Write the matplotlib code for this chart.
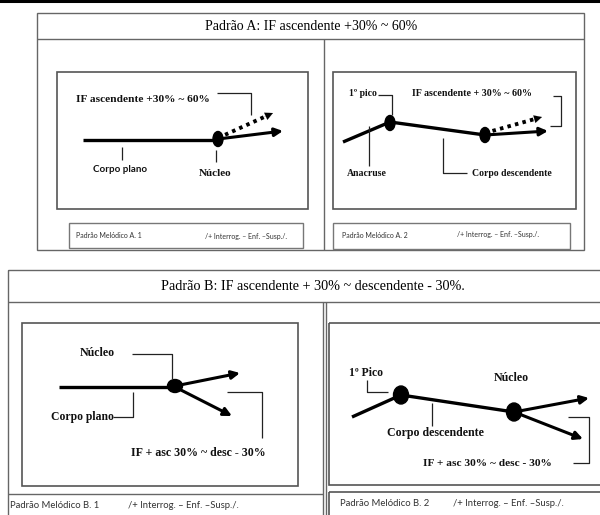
import matplotlib
matplotlib.use("Agg")
import matplotlib.pyplot as plt
from matplotlib.patches import Rectangle, Ellipse

SERIF = "Liberation Serif"
SANS = "Lato"

# table titles
title_a = "Padrão A: IF ascendente +30% ~ 60%"
title_b = "Padrão B: IF ascendente + 30% ~ descendente - 30%."
caption_tail = "/+ Interrog. – Enf. –Susp./."

# melodic contours (pixel coords, y grows downwards)
a1_body = [(83, 140), (218, 140)]
a1_dotted = [(218, 138), (273, 113)]
a1_solid = [(218, 139), (283, 131)]
a1_dots = [(218, 139, 10, 15)]

a2_body = [(343, 142), (390, 122), (485, 135)]
a2_dotted = [(485, 133), (542, 117)]
a2_solid = [(485, 135), (548, 131)]
a2_dots = [(390, 123, 10, 15), (485, 135, 10, 15)]

b1_body = [(59, 387), (175, 387)]
b1_up = [(175, 386), (240, 373)]
b1_down = [(175, 387), (232, 416)]
b1_dots = [(175, 386, 15, 13)]

b2_body = [(352, 417), (401, 395), (514, 412)]
b2_up = [(514, 412), (589, 398)]
b2_down = [(514, 412), (583, 439)]
b2_dots = [(401, 395, 15, 18), (514, 412, 15, 18)]

fig = plt.figure(figsize=(6, 5.15), dpi=100)
ax = fig.add_axes([0, 0, 1, 1])
ax.set_xlim(0, 600)
ax.set_ylim(515, 0)
ax.axis("off")


def box(x0, y0, x1, y1, lw=1.0, color="#666666"):
    ax.add_patch(Rectangle((x0, y0), x1 - x0, y1 - y0, fill=False,
                           lw=lw, edgecolor=color))


def seg(pts, lw=0.9, color="#222222"):
    ax.plot([p[0] for p in pts], [p[1] for p in pts], color=color, lw=lw,
            solid_capstyle="butt")


def contour(pts):
    seg(pts, lw=2.4, color="black")


def arrow(pts, dotted=False):
    (x0, y0), (x1, y1) = pts
    if dotted:
        f = 0.85
        ax.plot([x0, x0 + (x1 - x0) * f], [y0, y0 + (y1 - y0) * f],
                color="black", lw=2.8, linestyle=(0, (0.9, 1.1)))
        ax.annotate("", xy=(x1, y1), xytext=(x0 + (x1 - x0) * 0.8, y0 + (y1 - y0) * 0.8),
                    arrowprops=dict(arrowstyle="-|>", color="black", lw=0.1,
                                    mutation_scale=14, shrinkA=0, shrinkB=0))
    else:
        ax.annotate("", xy=(x1, y1), xytext=(x0, y0),
                    arrowprops=dict(arrowstyle="-|>", color="black", lw=2.2,
                                    mutation_scale=12, shrinkA=0, shrinkB=0))


def dots(lst):
    for x, y, w, h in lst:
        ax.add_patch(Ellipse((x, y), w, h, color="black"))


def label(x, y, s, size=8.5, ha="center", family=SERIF, weight="bold"):
    ax.text(x, y, s, fontsize=size, ha=ha, va="center", family=family,
            weight=weight, color="#111111")


# top rule
ax.plot([0, 600], [1, 1], color="black", lw=2.2)

# ---- table A ----
box(37, 13, 584, 250)
seg([(37, 39), (584, 39)], lw=1.0, color="#666666")
seg([(324, 39), (324, 250)], lw=1.0, color="#666666")
ax.text(311, 26, title_a, fontsize=10, ha="center", va="center", family=SERIF)

box(57, 72, 308, 209, lw=1.2, color="#555555")
box(69, 223, 303, 248, lw=1.0, color="#777777")
box(333, 72, 576, 209, lw=1.2, color="#555555")
box(333, 223, 570, 249, lw=1.0, color="#777777")

ax.text(76, 236, "Padrão Melódico A. 1", fontsize=5.0, va="center", family=SANS, color="#333333")
ax.text(205, 236, caption_tail, fontsize=5.0, va="center", family=SANS, color="#333333")
ax.text(342, 235, "Padrão Melódico A. 2", fontsize=5.0, va="center", family=SANS, color="#333333")
ax.text(457, 235, caption_tail, fontsize=5.0, va="center", family=SANS, color="#333333")

# A1
contour(a1_body)
arrow(a1_dotted, dotted=True)
arrow(a1_solid)
dots(a1_dots)
label(76, 99, "IF ascendente +30% ~ 60%", size=8.2, ha="left")
seg([(217, 93), (251, 93), (251, 115)])
seg([(122, 147), (122, 160)])
label(120, 169, "Corpo plano", size=7, family=SANS)
seg([(216, 150), (216, 162)])
label(215, 173, "Núcleo", size=8)

# A2
contour(a2_body)
arrow(a2_dotted, dotted=True)
arrow(a2_solid)
dots(a2_dots)
label(363, 94, "1º pico", size=7)
seg([(378, 95), (392, 95), (392, 115)])
label(412, 94, "IF ascendente + 30% ~ 60%", size=7.2, ha="left")
seg([(553, 96), (561, 96), (561, 126), (550, 126)])
seg([(369, 126), (369, 166)])
label(367, 173, "Anacruse", size=7)
seg([(443, 138), (443, 173), (467, 173)])
label(472, 173, "Corpo descendente", size=7, ha="left")

# ---- table B ----
box(8, 270, 640, 540)
seg([(8, 302), (640, 302)], lw=1.0, color="#666666")
seg([(323, 302), (323, 515)], lw=1.0, color="#666666")
seg([(326, 302), (326, 515)], lw=1.0, color="#666666")
ax.text(313, 286, title_b, fontsize=10.2, ha="center", va="center", family=SERIF)

box(22, 323, 298, 486, lw=1.2, color="#555555")
seg([(8, 494), (323, 494)], lw=1.0, color="#666666")
box(329, 323, 640, 485, lw=1.2, color="#555555")
box(329, 492, 640, 540, lw=1.2, color="#555555")

ax.text(10, 505, "Padrão Melódico B. 1", fontsize=6.8, va="center", family=SANS, color="#333333")
ax.text(128, 505, caption_tail, fontsize=6.8, va="center", family=SANS, color="#333333")
ax.text(340, 503, "Padrão Melódico B. 2", fontsize=6.8, va="center", family=SANS, color="#333333")
ax.text(453, 503, caption_tail, fontsize=6.8, va="center", family=SANS, color="#333333")

# B1
contour(b1_body)
arrow(b1_up)
arrow(b1_down)
dots(b1_dots)
label(97, 353, "Núcleo", size=8.6)
seg([(132, 354), (172, 354), (172, 379)])
label(82, 417, "Corpo plano", size=8.4)
seg([(113, 417), (133, 417), (133, 392)])
seg([(227, 392), (262, 392), (262, 438)])
label(198, 453, "IF + asc 30% ~ desc - 30%", size=8.6)

# B2
contour(b2_body)
arrow(b2_up)
arrow(b2_down)
dots(b2_dots)
label(366, 373, "1º Pico", size=8.4)
seg([(367, 380), (367, 392), (388, 392)])
label(511, 378, "Núcleo", size=8.6)
seg([(432, 403), (432, 426)])
label(435, 433, "Corpo descendente", size=8.6)
seg([(568, 417), (589, 417), (589, 463), (573, 463)])
label(487, 464, "IF + asc 30% ~ desc - 30%", size=8.2)

fig.savefig("out.png", dpi=100)
